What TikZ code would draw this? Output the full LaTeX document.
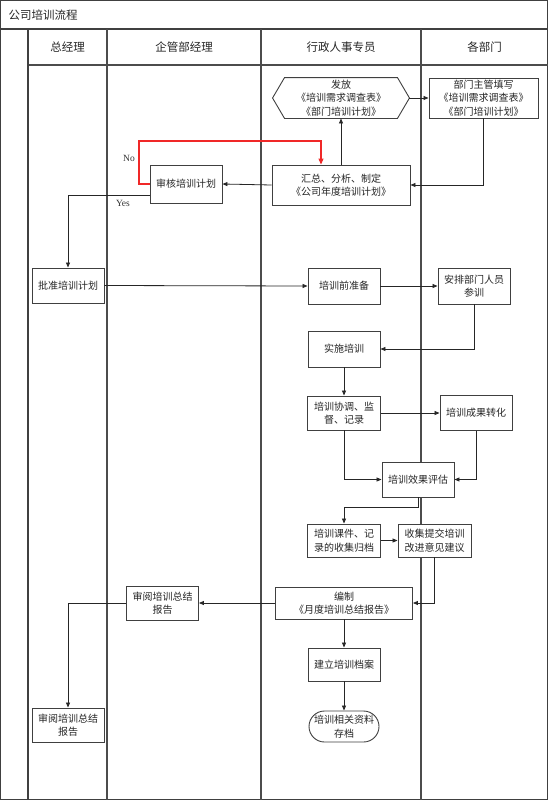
\documentclass[tikz,border=0pt]{standalone}
\usepackage{fontspec}
\setmainfont{Noto Sans CJK SC}
\newfontfamily\latinserif{Liberation Serif}
\usetikzlibrary{arrows.meta,shapes.misc}
\definecolor{nored}{RGB}{240,40,40}
\begin{document}
\begin{tikzpicture}[x=1pt,y=-1pt,
  frame/.style={draw=black!75, line width=1.4pt},
  lane/.style={draw=black!70, line width=1.1pt},
  boxline/.style={draw=black!75, line width=0.9pt},
  box/.style={boxline, fill=white, align=center, font=\fontsize{10}{13.5}\selectfont, text=black!85, inner sep=1pt},
  arr/.style={draw=black!85, line width=0.8pt, -{Triangle[length=5pt,width=4pt]}},
  redarr/.style={draw=nored, line width=1.1pt, -{Triangle[length=6pt,width=5pt,fill=nored]}},
  hdr/.style={font=\fontsize{11.5}{13}\selectfont, text=black!85},
  lbl/.style={font=\latinserif\fontsize{9.5}{12}\selectfont, text=black!80}]

\useasboundingbox (0,0) rectangle (548,800);
\fill[white] (0,0) rectangle (548,800);

% frame and lanes
\draw[frame] (0.7,0.7) rectangle (547.3,799.3);
\draw[frame] (0,29) -- (548,29);
\draw[lane] (28,65) -- (548,65);
\draw[frame] (28,29) -- (28,800);
\draw[lane] (107,29) -- (107,800);
\draw[lane] (261,29) -- (261,800);
\draw[lane] (421,29) -- (421,800);

\node[hdr, anchor=west] (title) at (5,15) {公司培训流程};
\node[hdr] (h1) at (67.5,47) {总经理};
\node[hdr] (h2) at (184,47) {企管部经理};
\node[hdr] (h3) at (341,47) {行政人事专员};
\node[hdr] (h4) at (484.5,47) {各部门};

% nodes
\node[box, draw=none, fill=none, minimum width=136pt, minimum height=40pt] (fa) at (341,98) {发放\\《培训需求调查表》\\《部门培训计划》};
\draw[boxline] (fa.west) -- ([xshift=12pt]fa.north west) -- ([xshift=-12pt]fa.north east) -- (fa.east) -- ([xshift=-12pt]fa.south east) -- ([xshift=12pt]fa.south west) -- cycle;
\node[box, minimum width=109pt, minimum height=40pt] (bm) at (483.5,98) {部门主管填写\\《培训需求调查表》\\《部门培训计划》};
\node[box, minimum width=138pt, minimum height=40pt] (hz) at (341,185) {汇总、分析、制定\\《公司年度培训计划》};
\node[box, minimum width=72pt, minimum height=38pt] (sh) at (186,184) {审核培训计划};
\node[box, minimum width=72pt, minimum height=35pt] (pz) at (68,285.5) {批准培训计划};
\node[box, minimum width=72pt, minimum height=36pt] (zb) at (344,286) {培训前准备};
\node[box, minimum width=72pt, minimum height=36pt] (ap) at (474,286) {安排部门人员\\参训};
\node[box, minimum width=72pt, minimum height=36pt] (ss) at (344,349) {实施培训};
\node[box, minimum width=73pt, minimum height=34pt] (xt) at (344,413) {培训协调、监\\督、记录};
\node[box, minimum width=72pt, minimum height=35pt] (cg) at (476,413) {培训成果转化};
\node[box, minimum width=72pt, minimum height=35pt] (pg) at (418,479.5) {培训效果评估};
\node[box, minimum width=73pt, minimum height=33pt] (kj) at (344,540.5) {培训课件、记\\录的收集归档};
\node[box, minimum width=73pt, minimum height=33pt] (sj) at (434.5,540.5) {收集提交培训\\改进意见建议};
\node[box, minimum width=137pt, minimum height=32pt] (bz) at (344,603) {编制\\《月度培训总结报告》};
\node[box, minimum width=72pt, minimum height=34pt] (sy) at (162.5,603) {审阅培训总结\\报告};
\node[box, minimum width=72pt, minimum height=33pt] (jl) at (344,664.5) {建立培训档案};
\node[box, rounded rectangle, minimum width=72pt, minimum height=31pt] (cd) at (344,726.5) {培训相关资料\\存档};
\node[box, minimum width=72pt, minimum height=34pt] (sy2) at (68,725) {审阅培训总结\\报告};

% connectors
\draw[arr] (fa.east) -- (bm.west);
\draw[arr] (bm.south) |- (hz.east);
\draw[arr] (hz.north) -- (fa.south);
\draw[arr] (hz.west) -- (sh.east);
\coordinate (nocorner) at (139,141);
\draw[redarr] (sh.west) -| (nocorner) -| ([xshift=-20pt]hz.north);
\draw[arr] ([yshift=-11pt]sh.west) -| (pz.north);
\node[lbl] (no) at (129,158) {No};
\node[lbl] (yes) at (123,203) {Yes};
\draw[arr] (pz.east) -- (zb.west);
\draw[arr] (zb.east) -- (ap.west);
\draw[arr] (ap.south) |- (ss.east);
\draw[arr] (ss.south) -- (xt.north);
\draw[arr] (xt.east) -- (cg.west);
\draw[arr] (xt.south) |- (pg.west);
\draw[arr] (cg.south) |- (pg.east);
\draw[arr] (pg.south) -- ++(0,10) -| (kj.north);
\draw[arr] (kj.east) -- (sj.west);
\draw[arr] (sj.south) |- (bz.east);
\draw[arr] (bz.west) -- (sy.east);
\draw[arr] (sy.west) -| (sy2.north);
\draw[arr] (bz.south) -- (jl.north);
\draw[arr] (jl.south) -- (cd.north);
\end{tikzpicture}
\end{document}
